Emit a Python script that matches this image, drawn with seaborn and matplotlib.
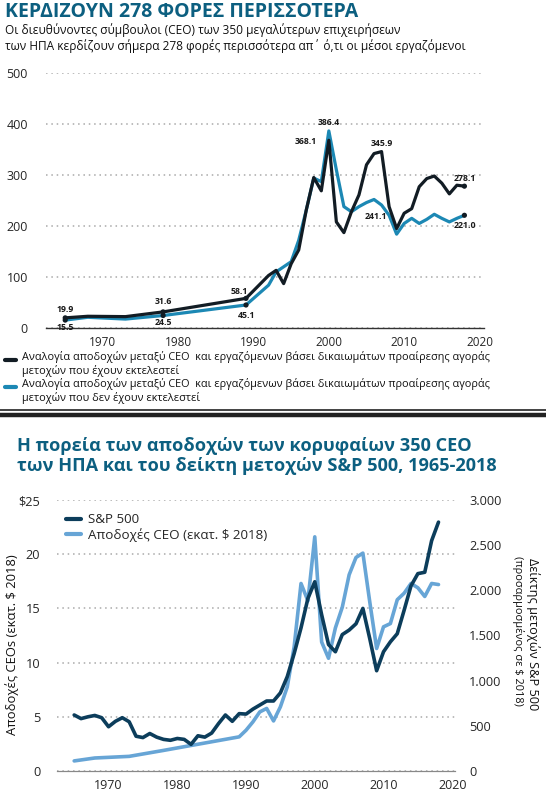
import matplotlib
matplotlib.use("Agg")
import matplotlib.pyplot as plt
from matplotlib.lines import Line2D
import pandas as pd
import seaborn as sns

sns.set_style("white")
plt.rcParams['font.family'] = ['Open Sans', 'DejaVu Sans']

# ---- top chart: CEO-to-worker pay ratio
ratio_years = [1965, 1968, 1973, 1978, 1989] + list(range(1992, 2019))
ratio_realized = [19.9, 23.0, 22.3, 31.6, 58.1,
                  103, 113, 87, 126, 153, 231, 295, 269, 368.1, 208,
                  187, 228, 261, 320, 342, 345.9, 238, 195, 225, 234,
                  277, 293, 298, 284, 263, 280, 278.1]
ratio_granted = [15.5, 21.0, 17.5, 24.5, 45.1,
                 84, 110, 120, 130, 172, 231, 294, 287, 386.4, 310,
                 238, 228, 238, 246, 252, 241.1, 221, 184, 205, 215,
                 205, 213, 223, 215, 208, 215, 221.0]
dot_years = [1965, 1978, 1989, 2018]

# annotated values: (year, value, dx px, dy px)
realized_notes = [(1965, 19.9, 0, 8), (1978, 31.6, 0, 10), (1989, 58.1, -7, 7),
                  (2000, 368.1, -23, -1), (2007, 345.9, 0, 8), (2018, 278.1, 0, 8)]
granted_notes = [(1965, 15.5, 0, -7), (1978, 24.5, 0, -7), (1989, 45.1, 1, -11),
                 (2000, 386.4, 0, 8), (2007, 241.1, -6, -11), (2018, 221.0, 0, -10)]

legend_top = ["Αναλογία αποδοχών μεταξύ CEO  και εργαζόμενων βάσει δικαιωμάτων προαίρεσης αγοράς\nμετοχών που έχουν εκτελεστεί",
              "Αναλογία αποδοχών μεταξύ CEO  και εργαζόμενων βάσει δικαιωμάτων προαίρεσης αγοράς\nμετοχών που δεν έχουν εκτελεστεί"]

# ---- bottom chart: CEO pay and S&P 500
pay_years = [1965, 1968, 1973, 1978, 1989] + list(range(1990, 2019))
ceo_pay = [0.93, 1.2, 1.35, 1.9, 3.15,
           3.76, 4.53, 5.45, 5.77, 4.62, 5.92, 7.76, 11.46, 17.3, 15.7,
           21.6, 11.9, 10.4, 13.2, 15.1, 18.1, 19.7, 20.1, 15.6, 11.3,
           13.3, 13.6, 15.8, 16.4, 17.3, 16.9, 16.1, 17.3, 17.2]
sp_years = list(range(1965, 2019))
sp500 = [620, 580, 600, 615, 590, 490, 550, 590, 545, 385,
         370, 415, 375, 350, 340, 360, 350, 295, 390, 375,
         420, 525, 620, 550, 635, 630, 685, 730, 775, 775,
         865, 1045, 1300, 1585, 1910, 2095, 1730, 1400, 1320, 1510,
         1560, 1630, 1800, 1465, 1110, 1320, 1430, 1520, 1780, 2050,
         2185, 2200, 2550, 2755]

TEAL = "#0c5f80"
DARK = "#121c24"
BLUE = "#1c88b4"
NAVY = "#0c3d5b"
LIGHT = "#67a5d6"
GRID = "#a9a9a9"
W, H = 546, 800


def fx(px):
    return px / W


def fy(py):
    return 1 - py / H


fig = plt.figure(figsize=(5.46, 8.0), dpi=100)

fig.text(fx(5), fy(12), "ΚΕΡΔΙΖΟΥΝ 278 ΦΟΡΕΣ ΠΕΡΙΣΣΟΤΕΡΑ", color=TEAL,
         fontsize=14, fontweight="bold", va="center", ha="left")
fig.text(fx(5), fy(38), "Οι διευθύνοντες σύμβουλοι (CEO) των 350 μεγαλύτερων επιχειρήσεων\n"
         "των ΗΠΑ κερδίζουν σήμερα 278 φορές περισσότερα απ΄ ό,τι οι μέσοι εργαζόμενοι",
         color="#111111", fontsize=8.6, va="center", ha="left", linespacing=1.15)

# ---- top axes
ax = fig.add_axes([fx(46), fy(328), fx(484 - 46), (328 - 73) / H])
top = pd.DataFrame({"year": ratio_years, "realized": ratio_realized, "granted": ratio_granted})
sns.lineplot(data=top, x="year", y="granted", color=BLUE, lw=2.3, ax=ax, zorder=3)
sns.lineplot(data=top, x="year", y="realized", color=DARK, lw=2.3, ax=ax, zorder=4)
dots = top[top["year"].isin(dot_years)]
sns.scatterplot(data=dots, x="year", y="realized", color=DARK, s=14, ax=ax, zorder=5, edgecolor="none")
sns.scatterplot(data=dots, x="year", y="granted", color=DARK, s=14, ax=ax, zorder=5, edgecolor="none")
for yr, v, dx, dy in realized_notes + granted_notes:
    ax.annotate(f"{v:.1f}", (yr, v), xytext=(dx, dy), textcoords="offset pixels",
                ha="center", va="center", fontsize=6.3, fontweight="bold",
                color="#1a1a1a", zorder=6)
ax.set_xlim(1962.45, 2020.6)
ax.set_ylim(0, 500)
ax.set_yticks([0, 100, 200, 300, 400, 500])
ax.set_xticks([1970, 1980, 1990, 2000, 2010, 2020])
ax.grid(axis="y", color=GRID, linestyle=(0, (1, 2.5)), lw=1.1)
ax.grid(axis="x", visible=False)
for s in ["top", "left", "right"]:
    ax.spines[s].set_visible(False)
ax.spines["bottom"].set_color("#333333")
ax.spines["bottom"].set_linewidth(1.0)
ax.tick_params(axis="x", direction="out", length=4, color="#333333", labelsize=8.5, pad=2)
ax.tick_params(axis="y", length=0, labelsize=9, pad=13)
ax.set_xlabel("")
ax.set_ylabel("")
ax.set_facecolor("none")

# top legend
for i, (txt, col) in enumerate(zip(legend_top, [DARK, BLUE])):
    y0 = 358 + i * 27
    fig.add_artist(Line2D([fx(5), fx(16)], [fy(y0 + 2), fy(y0 + 2)], color=col, lw=3))
    fig.text(fx(22), fy(y0 + 6), txt, fontsize=7.8, color="#111111", va="center",
             ha="left", linespacing=1.2)

# separator
fig.add_artist(Line2D([0, 1], [fy(409.5), fy(409.5)], color="#222222", lw=1.2))
fig.add_artist(Line2D([0, 1], [fy(415), fy(415)], color="#222222", lw=3.2))

fig.text(fx(17), fy(456), "Η πορεία των αποδοχών των κορυφαίων 350 CEO\n"
         "των ΗΠΑ και του δείκτη μετοχών S&P 500, 1965-2018",
         color=TEAL, fontsize=13.1, fontweight="bold", va="center", ha="left", linespacing=1.12)

# ---- bottom axes
bx = fig.add_axes([fx(57), fy(771), fx(455 - 57), (771 - 500) / H])
bx2 = bx.twinx()
pay = pd.DataFrame({"year": pay_years, "pay": ceo_pay})
sp = pd.DataFrame({"year": sp_years, "sp": sp500})
sns.lineplot(data=pay, x="year", y="pay", color=LIGHT, lw=2.6, ax=bx)
sns.lineplot(data=sp, x="year", y="sp", color=NAVY, lw=2.6, ax=bx2)
bx.set_xlim(1962.5, 2020.4)
bx.set_ylim(0, 25)
bx2.set_ylim(0, 3000)
bx.set_yticks([0, 5, 10, 15, 20, 25])
bx.set_yticklabels(["0", "5", "10", "15", "20", "$25"])
bx2.set_yticks([0, 500, 1000, 1500, 2000, 2500, 3000])
bx2.set_yticklabels(["0", "500", "1.000", "1.500", "2.000", "2.500", "3.000"])
bx.set_xticks([1970, 1980, 1990, 2000, 2010, 2020])
bx.grid(axis="y", color=GRID, linestyle=(0, (1, 2.5)), lw=1.1)
bx.grid(axis="x", visible=False)
bx2.grid(False)
for a in (bx, bx2):
    for s in ["top", "left", "right"]:
        a.spines[s].set_visible(False)
    a.spines["bottom"].set_color("#888888")
    a.set_xlabel("")
    a.set_ylabel("")
bx.tick_params(axis="x", direction="out", length=4, color="#888888", labelsize=9, pad=2)
bx.tick_params(axis="y", length=0, labelsize=9.2, pad=12)
bx2.tick_params(axis="y", length=0, labelsize=9.2, pad=10)

handles = [Line2D([], [], color=NAVY, lw=3), Line2D([], [], color=LIGHT, lw=3)]
bx2.legend(handles, ["S&P 500", "Αποδοχές CEO (εκατ. $ 2018)"], loc="upper left",
           bbox_to_anchor=(0.0, 0.985), frameon=False, fontsize=9.6, handlelength=1.1,
           handletextpad=0.5, labelspacing=0.1, borderaxespad=0.3)

fig.text(fx(12), fy(645), "Αποδοχές CEOs (εκατ. $ 2018)", rotation=90, fontsize=9.4,
         va="center", ha="center", color="#111111")
fig.text(fx(533), fy(634), "Δείκτης μετοχών S&P 500", rotation=270, fontsize=9.2,
         va="center", ha="center", color="#111111")
fig.text(fx(518), fy(631), "(προσαρμοσμένος σε $ 2018)", rotation=270, fontsize=7.9,
         va="center", ha="center", color="#111111")

fig.savefig("out.png", dpi=100)
